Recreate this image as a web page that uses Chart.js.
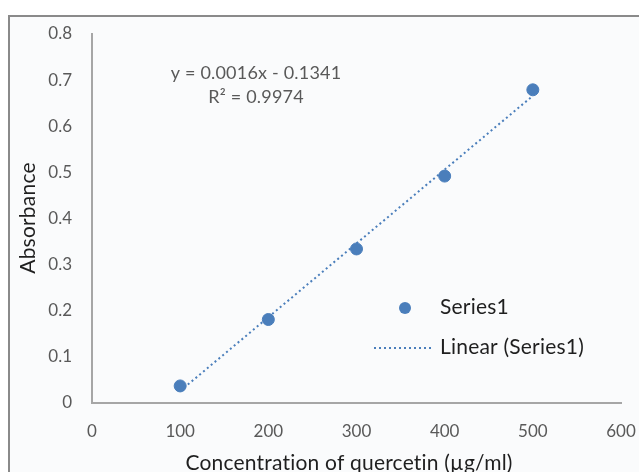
<!DOCTYPE html>
<html>
<head>
<meta charset="utf-8">
<script src="https://cdn.jsdelivr.net/npm/chart.js@4.4.1/dist/chart.umd.min.js"></script>
<style>
  html, body { margin: 0; padding: 0; background: #ffffff; overflow: hidden; }
  #frame {
    position: absolute; left: 8px; top: 15px; width: 660px; height: 500px;
    border: 2px solid #8a8a8a; background: #fafbfc;
  }
  #fig { position: absolute; left: 0; top: 0; }
</style>
</head>
<body>
<div id="frame"></div>
<canvas id="fig" width="639" height="472"></canvas>
<script>
// concentration (µg/ml) and absorbance
const concentration = [100, 200, 300, 400, 500];
const absorbance = [0.037, 0.181, 0.334, 0.492, 0.679];

// trendline end points (Excel linear fit shown on the chart)
const trendX = [100, 500];
const trendY = [0.026, 0.666];

const equationText = "y = 0.0016x - 0.1341";
const r2Text = "R² = 0.9974";
const xTitle = "Concentration of quercetin (µg/ml)";
const yTitle = "Absorbance";
const seriesName = "Series1";
const trendName = "Linear (Series1)";

const BLUE = "#4a7ebb";
const GREY_TEXT = "#595959";
const DARK_TEXT = "#1f1f1f";
const FONT = "Lato, 'Open Sans', sans-serif";

const textPlugin = {
  id: "excelText",
  afterDraw(chart) {
    const ctx = chart.ctx;
    ctx.save();
    ctx.letterSpacing = "0.2px";

    // equation
    ctx.fillStyle = GREY_TEXT;
    ctx.font = "18px " + FONT;
    ctx.textAlign = "center";
    ctx.textBaseline = "middle";
    ctx.fillText(equationText, 256, 73);
    ctx.fillText(r2Text, 256, 97);

    // legend
    ctx.fillStyle = BLUE;
    ctx.beginPath();
    ctx.arc(405, 308, 6, 0, Math.PI * 2);
    ctx.fill();
    ctx.strokeStyle = BLUE;
    ctx.lineWidth = 2;
    ctx.setLineDash([2, 3]);
    ctx.beginPath();
    ctx.moveTo(374, 348);
    ctx.lineTo(434, 348);
    ctx.stroke();
    ctx.setLineDash([]);
    ctx.fillStyle = DARK_TEXT;
    ctx.font = "21px " + FONT;
    ctx.textAlign = "left";
    ctx.fillText(seriesName, 440, 307);
    ctx.fillText(trendName, 440, 347);

    // axis titles
    ctx.font = "21px " + FONT;
    ctx.textAlign = "center";
    ctx.fillText(xTitle, 349, 463);
    ctx.translate(28, 218);
    ctx.rotate(-Math.PI / 2);
    ctx.fillText(yTitle, 0, 0);

    ctx.restore();
  }
};

new Chart(document.getElementById("fig"), {
  type: "scatter",
  data: {
    datasets: [
      {
        label: seriesName,
        data: concentration.map((x, i) => ({ x: x, y: absorbance[i] })),
        backgroundColor: BLUE,
        borderColor: BLUE,
        pointRadius: 6,
        pointHoverRadius: 6,
        order: 1
      },
      {
        label: trendName,
        type: "line",
        data: trendX.map((x, i) => ({ x: x, y: trendY[i] })),
        borderColor: BLUE,
        borderWidth: 2,
        borderDash: [2, 3],
        pointRadius: 0,
        fill: false,
        order: 2
      }
    ]
  },
  options: {
    responsive: false,
    animation: false,
    devicePixelRatio: 1,
    layout: { padding: { left: 0, top: 34, right: 18, bottom: 0 } },
    plugins: {
      legend: { display: false },
      tooltip: { enabled: false }
    },
    scales: {
      x: {
        type: "linear",
        min: 0,
        max: 600,
        ticks: {
          stepSize: 100,
          color: GREY_TEXT,
          padding: 18,
          font: { family: FONT, size: 17 }
        },
        grid: { display: false, drawTicks: false },
        border: { display: true, color: "#a6a6a6", width: 2 },
        afterFit(scale) {
          scale.height = 69;
          scale.paddingRight = 0;
          scale.paddingLeft = 0;
        }
      },
      y: {
        min: 0,
        max: 0.8,
        ticks: {
          stepSize: 0.1,
          color: GREY_TEXT,
          padding: 20,
          font: { family: FONT, size: 17 },
          callback: (v) => (v === 0 ? "0" : v.toFixed(1))
        },
        grid: { display: false, drawTicks: false },
        border: { display: true, color: "#a6a6a6", width: 2 },
        afterFit(scale) { scale.width = 92; }
      }
    }
  },
  plugins: [textPlugin]
});
</script>
</body>
</html>
